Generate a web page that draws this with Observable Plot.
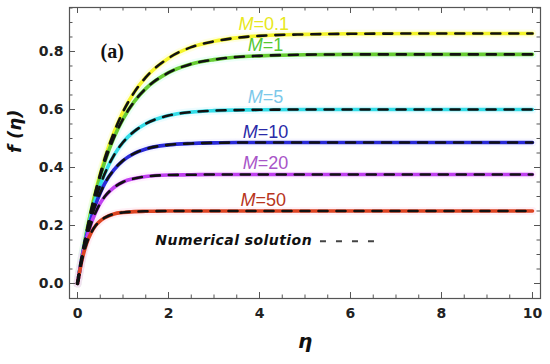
<!DOCTYPE html>
<html><head><meta charset="utf-8">
<script src="https://cdn.jsdelivr.net/npm/d3@7"></script>
<script src="https://cdn.jsdelivr.net/npm/@observablehq/plot@0.6"></script>
<style>body{margin:0;background:#fff}</style>
</head><body><div id="chart"></div>
<script>
// ---- data ----
const eta   = [0, 0.1, 0.2, 0.3, 0.4, 0.5, 0.6, 0.8, 1, 1.25, 1.5, 2, 2.5, 3, 3.5, 4, 5, 6, 8, 10];
const fM0_1 = [0, 0.094, 0.178, 0.253, 0.320, 0.379, 0.432, 0.521, 0.592, 0.660, 0.711, 0.777, 0.815, 0.835, 0.847, 0.854, 0.859, 0.861, 0.862, 0.862];
const fM1   = [0, 0.094, 0.177, 0.250, 0.314, 0.370, 0.420, 0.503, 0.567, 0.628, 0.672, 0.727, 0.757, 0.772, 0.781, 0.785, 0.789, 0.790, 0.790, 0.790];
const fM5   = [0, 0.092, 0.170, 0.237, 0.292, 0.339, 0.379, 0.442, 0.487, 0.525, 0.551, 0.579, 0.591, 0.596, 0.598, 0.599, 0.600, 0.600, 0.600, 0.600];
const fM10  = [0, 0.090, 0.164, 0.224, 0.273, 0.312, 0.345, 0.392, 0.424, 0.449, 0.464, 0.478, 0.483, 0.485, 0.486, 0.486, 0.486, 0.486, 0.486, 0.486];
const fM20  = [0, 0.088, 0.155, 0.207, 0.246, 0.277, 0.300, 0.331, 0.350, 0.362, 0.369, 0.374, 0.375, 0.376, 0.376, 0.376, 0.376, 0.376, 0.376, 0.376];
const fM50  = [0, 0.082, 0.138, 0.175, 0.200, 0.216, 0.227, 0.240, 0.245, 0.248, 0.249, 0.250, 0.250, 0.250, 0.250, 0.250, 0.250, 0.250, 0.250, 0.250];
const seriesNames  = ["0.1", "1", "5", "10", "20", "50"];
const seriesValues = [fM0_1, fM1, fM5, fM10, fM20, fM50];
const lineColors   = ["#f4f42a", "#66cc33", "#33dde8", "#2a2ad8", "#c040f0", "#dd4422"];
const haloColors   = ["#ffffb0", "#c8ffe8", "#c8f6ff", "#e4e4ff", "#ffd6ff", "#ffd4e6"];
const labelColors  = ["#e8e820", "#55c833", "#7cc8ea", "#2a2aa8", "#a855c8", "#b8341c"];
const xTicks = [0, 2, 4, 6, 8, 10];
const yTicks = [0, 0.2, 0.4, 0.6, 0.8];

// ---- table for Plot ----
const rows = [];
seriesNames.forEach((m, i) => eta.forEach((e, j) => rows.push({M: m, eta: e, f: seriesValues[i][j]})));

// label anchor (left edge of each "M=..." label), annotation placement
const labelPos = [
  {x: 3.54, y: 0.893}, {x: 3.74, y: 0.821}, {x: 3.74, y: 0.641},
  {x: 3.63, y: 0.521}, {x: 3.63, y: 0.414}, {x: 3.58, y: 0.286}
];
const labels = seriesNames.map((m, i) => ({M: m, x: labelPos[i].x, y: labelPos[i].y, c: labelColors[i]}));

const xDom = [-0.176, 10.176];
const yDom = [-0.0517, 0.9517];
const W = 550, H = 364, mL = 69, mR = 10, mT = 7, mB = 66;
const pxX = (xDom[1] - xDom[0]) / (W - mL - mR);
const pxY = (yDom[1] - yDom[0]) / (H - mT - mB);
const majL = 6, minL = 3.5;
const xMinor = d3.range(0, 10.01, 0.5).filter(v => !xTicks.includes(v));
const yMinor = d3.range(0, 0.951, 0.05).map(v => +v.toFixed(2)).filter(v => !yTicks.includes(v));
const tickStroke = "#555";

const marks = [];
// halos + colored lines
seriesNames.forEach((m, i) => {
  marks.push(Plot.line(rows.filter(r => r.M === m), {x: "eta", y: "f", stroke: haloColors[i], strokeWidth: 8, strokeOpacity: 0.35, curve: "monotone-x"}));
});
seriesNames.forEach((m, i) => {
  marks.push(Plot.line(rows.filter(r => r.M === m), {x: "eta", y: "f", stroke: lineColors[i], strokeWidth: 3.6, curve: "monotone-x"}));
});
// numerical solution: black dashes
marks.push(Plot.line(rows, {x: "eta", y: "f", z: "M", stroke: "#111", strokeWidth: 2.6, strokeDasharray: "9,9", curve: "monotone-x"}));

// frame & inward ticks on all sides
marks.push(Plot.frame({stroke: tickStroke, strokeWidth: 1.2}));
for (const [vals, len] of [[xTicks, majL], [xMinor, minL]]) {
  marks.push(Plot.ruleX(vals, {x: d => d, y1: yDom[0], y2: yDom[0] + len * pxY, stroke: tickStroke}));
  marks.push(Plot.ruleX(vals, {x: d => d, y1: yDom[1] - len * pxY, y2: yDom[1], stroke: tickStroke}));
}
for (const [vals, len] of [[yTicks, majL], [yMinor, minL]]) {
  marks.push(Plot.ruleY(vals, {y: d => d, x1: xDom[0], x2: xDom[0] + len * pxX, stroke: tickStroke}));
  marks.push(Plot.ruleY(vals, {y: d => d, x1: xDom[1] - len * pxX, x2: xDom[1], stroke: tickStroke}));
}
marks.push(Plot.axisX(xTicks, {tickSize: 0, tickPadding: 10, tickFormat: d => String(d), fontSize: 14, fontWeight: "bold", fill: "#222", label: null}));
marks.push(Plot.axisY(yTicks, {tickSize: 0, tickPadding: 6, tickFormat: d => d.toFixed(1), fontSize: 14, fontWeight: "bold", fill: "#222", label: null}));

// curve labels: italic M + upright "=value"
marks.push(Plot.text(labels, {x: "x", y: "y", text: d => "M", fill: "c", textAnchor: "start", fontStyle: "italic", fontFamily: "Liberation Sans", fontSize: 18}));
marks.push(Plot.text(labels, {x: "x", y: "y", text: d => "=" + d.M, fill: "c", textAnchor: "start", dx: 15, fontFamily: "Liberation Sans", fontSize: 18}));

// annotations
marks.push(Plot.text(["(a)"], {frameAnchor: "top-left", dx: 31, dy: 36, textAnchor: "start", fontFamily: "Liberation Serif", fontWeight: "bold", fontSize: 20, fill: "#111"}));
marks.push(Plot.text(["Numerical solution"], {x: 1.71, y: 0.148, textAnchor: "start", fontFamily: "DejaVu Sans", fontWeight: "bold", fontStyle: "italic", fontSize: 14, fill: "#111"}));
marks.push(Plot.ruleY([0.146], {x1: 5.34, x2: 6.55, stroke: "#444", strokeWidth: 2, strokeDasharray: "6,10"}));
marks.push(Plot.text(["η"], {frameAnchor: "bottom", dy: 49, fontFamily: "DejaVu Sans", fontWeight: "bold", fontStyle: "italic", fontSize: 20, fill: "#111"}));
marks.push(Plot.text(["f (η)"], {frameAnchor: "left", dx: -54, rotate: -90, fontFamily: "DejaVu Sans", fontWeight: "bold", fontStyle: "italic", fontSize: 18, fill: "#111"}));

const chart = Plot.plot({
  width: W, height: H,
  marginLeft: mL, marginRight: mR, marginTop: mT, marginBottom: mB,
  x: {domain: xDom},
  y: {domain: yDom},
  style: {fontFamily: "DejaVu Sans", background: "#fff", overflow: "visible"},
  marks
});
d3.select(chart).selectAll("text").filter(function () { return this.textContent === "Numerical solution"; })
  .style("letter-spacing", "0.45px");
document.getElementById("chart").appendChild(chart);
</script>
</body></html>
